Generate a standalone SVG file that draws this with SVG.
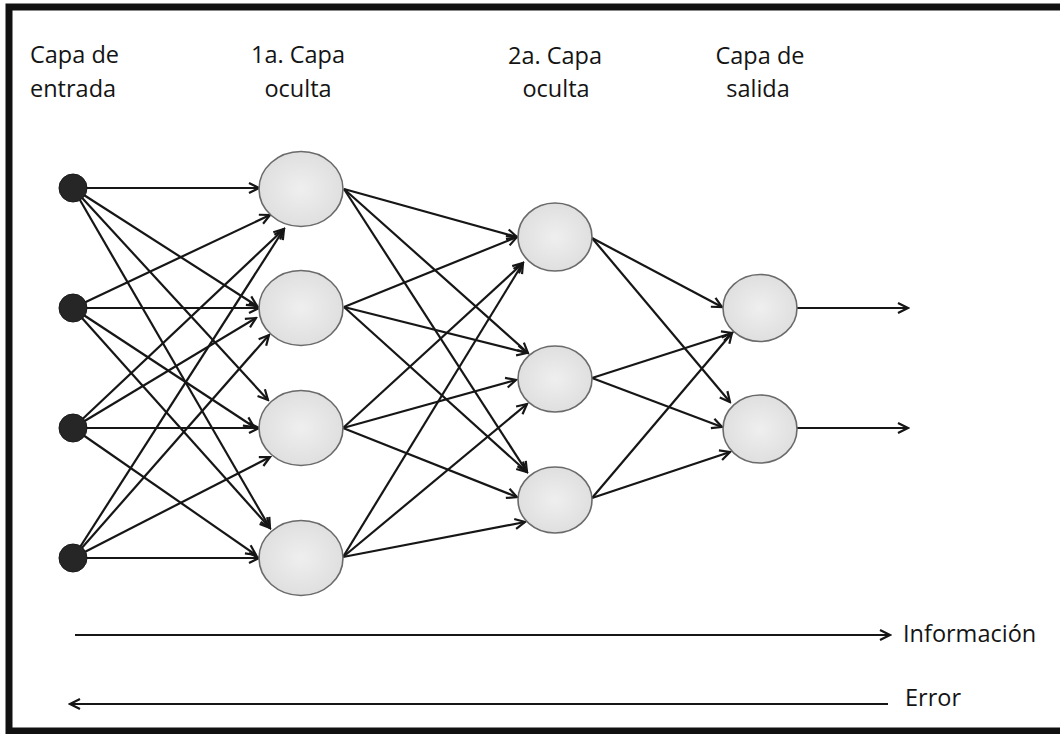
<svg xmlns="http://www.w3.org/2000/svg" width="1060" height="734" viewBox="0 0 1060 734">
  <style>
    .label { font-family: "Open Sans", "Noto Sans", "Liberation Sans", sans-serif; font-size: 23.5px; fill: #141414; }
    .mid { text-anchor: middle; }
    .link { stroke: #161616; stroke-width: 2.2; fill: none; marker-end: url(#head); }
    .input { fill: #262626; stroke: #1a1a1a; stroke-width: 1; }
    .neuron { fill: url(#shade); stroke: #6a6a6a; stroke-width: 1.6; }
  </style>
  <defs>
    <marker id="head" markerUnits="userSpaceOnUse" viewBox="-12 -7 14 14" refX="0" refY="0" markerWidth="14" markerHeight="14" orient="auto-start-reverse">
      <path d="M-10,-5 L0,0 L-10,5" fill="none" stroke="#161616" stroke-width="2.2"/>
    </marker>
    <radialGradient id="shade" cx="0.5" cy="0.5" r="0.6">
      <stop offset="0" stop-color="#efefef"/>
      <stop offset="1" stop-color="#dcdcdc"/>
    </radialGradient>
  </defs>

  <rect width="1060" height="734" fill="#ffffff"/>
  <!-- frame (open on the right side) -->
  <rect x="9" y="7" width="1070" height="724" fill="none" stroke="#111" stroke-width="7"/>

  <!-- layer titles -->
  <g id="titles">
    <text class="label" x="30" y="63">Capa de</text>
    <text class="label" x="30" y="97">entrada</text>
    <text class="label mid" x="298" y="63">1a. Capa</text>
    <text class="label mid" x="298" y="97">oculta</text>
    <text class="label mid" x="555" y="64">2a. Capa</text>
    <text class="label mid" x="556" y="97">oculta</text>
    <text class="label mid" x="760" y="64">Capa de</text>
    <text class="label mid" x="758" y="97">salida</text>
  </g>

  <g id="connectors">
    <!-- input layer to first hidden layer -->
    <line class="link" x1="73" y1="188" x2="259" y2="188"/>
    <line class="link" x1="73" y1="188" x2="257" y2="306"/>
    <line class="link" x1="73" y1="188" x2="268" y2="400"/>
    <line class="link" x1="73" y1="188" x2="270" y2="528"/>

    <line class="link" x1="73" y1="308" x2="270" y2="215"/>
    <line class="link" x1="73" y1="308" x2="259" y2="308"/>
    <line class="link" x1="73" y1="308" x2="254" y2="427"/>
    <line class="link" x1="73" y1="308" x2="270" y2="528"/>

    <line class="link" x1="73" y1="428" x2="284" y2="229"/>
    <line class="link" x1="73" y1="428" x2="256" y2="318"/>
    <line class="link" x1="73" y1="428" x2="259" y2="428"/>
    <line class="link" x1="73" y1="428" x2="256" y2="555"/>

    <line class="link" x1="73" y1="558" x2="284" y2="229"/>
    <line class="link" x1="73" y1="558" x2="269" y2="335"/>
    <line class="link" x1="73" y1="558" x2="270" y2="457"/>
    <line class="link" x1="73" y1="558" x2="259" y2="558"/>

    <!-- first hidden layer to second hidden layer -->
    <line class="link" x1="344" y1="189" x2="517" y2="237"/>
    <line class="link" x1="344" y1="189" x2="528" y2="353"/>
    <line class="link" x1="344" y1="189" x2="527" y2="472"/>

    <line class="link" x1="344" y1="307" x2="517" y2="237"/>
    <line class="link" x1="344" y1="307" x2="527" y2="353"/>
    <line class="link" x1="344" y1="307" x2="527" y2="472"/>

    <line class="link" x1="343" y1="428" x2="523" y2="263"/>
    <line class="link" x1="343" y1="428" x2="516" y2="380"/>
    <line class="link" x1="343" y1="428" x2="517" y2="497"/>

    <line class="link" x1="343" y1="557" x2="523" y2="263"/>
    <line class="link" x1="343" y1="557" x2="527" y2="404"/>
    <line class="link" x1="343" y1="557" x2="525" y2="522"/>

    <!-- second hidden layer to output layer -->
    <line class="link" x1="592" y1="238" x2="722" y2="307"/>
    <line class="link" x1="592" y1="238" x2="730" y2="402"/>
    <line class="link" x1="592" y1="378" x2="732" y2="333"/>
    <line class="link" x1="592" y1="378" x2="722" y2="427"/>
    <line class="link" x1="592" y1="498" x2="732" y2="333"/>
    <line class="link" x1="592" y1="498" x2="730" y2="452"/>

    <!-- outputs -->
    <line class="link" x1="797" y1="308" x2="908" y2="308"/>
    <line class="link" x1="797" y1="428" x2="908" y2="428"/>

    <!-- direction of information and error flow -->
    <line class="link" x1="75" y1="635" x2="890" y2="635"/>
    <line x1="888" y1="704" x2="70" y2="704" stroke="#161616" stroke-width="2.2" marker-end="url(#head)"/>
  </g>

  <g id="input-1"><circle class="input" cx="73" cy="188" r="14"/></g>
  <g id="input-2"><circle class="input" cx="73" cy="308" r="14"/></g>
  <g id="input-3"><circle class="input" cx="73" cy="428" r="14"/></g>
  <g id="input-4"><circle class="input" cx="73" cy="558" r="14"/></g>

  <g id="hidden1-1"><ellipse class="neuron" cx="301" cy="189" rx="42" ry="37.5"/></g>
  <g id="hidden1-2"><ellipse class="neuron" cx="301" cy="308" rx="42" ry="37.5"/></g>
  <g id="hidden1-3"><ellipse class="neuron" cx="301" cy="428" rx="42" ry="37.5"/></g>
  <g id="hidden1-4"><ellipse class="neuron" cx="301" cy="558" rx="42" ry="37.5"/></g>

  <g id="hidden2-1"><ellipse class="neuron" cx="555" cy="237" rx="37" ry="34"/></g>
  <g id="hidden2-2"><ellipse class="neuron" cx="555" cy="379" rx="37" ry="33"/></g>
  <g id="hidden2-3"><ellipse class="neuron" cx="555" cy="500" rx="37" ry="33"/></g>

  <g id="output-1"><ellipse class="neuron" cx="760" cy="308" rx="37" ry="33.5"/></g>
  <g id="output-2"><ellipse class="neuron" cx="760" cy="429" rx="37" ry="34"/></g>

  <g id="flow-labels">
    <text class="label" x="903" y="642">Información</text>
    <text class="label" x="905" y="706">Error</text>
  </g>
</svg>
